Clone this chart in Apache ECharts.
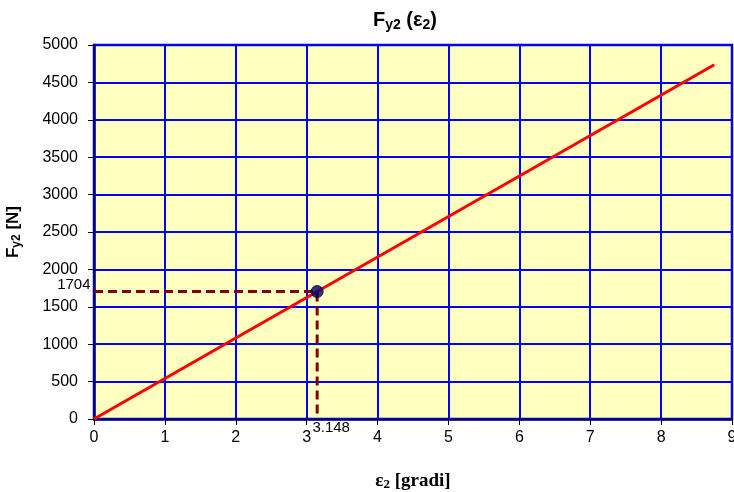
<!DOCTYPE html>
<html>
<head>
<meta charset="utf-8">
<script src="https://cdn.jsdelivr.net/npm/echarts@6/dist/echarts.min.js"></script>
<style>
  html, body { margin: 0; padding: 0; background: #ffffff; }
  #chart { width: 734px; height: 492px; }
</style>
</head>
<body>
<div id="chart"></div>
<script>
// Force Fy2 as a function of angle ε2 (degrees)
const lineX = [0, 8.75];
const lineY = [0, 4736];

// Highlighted operating point
const pointX = 3.148;
const pointY = 1704;

const xTicks = [0, 1, 2, 3, 4, 5, 6, 7, 8, 9];
const yTicks = [0, 500, 1000, 1500, 2000, 2500, 3000, 3500, 4000, 4500, 5000];

const font = '"Liberation Sans", Arial, sans-serif';
const serif = '"Liberation Serif", "Times New Roman", serif';

const valueLabel = {
  color: '#000000', fontFamily: font, fontSize: 15, opacity: 1,
  textBorderWidth: 0
};

const chart = echarts.init(document.getElementById('chart'));
chart.setOption({
  backgroundColor: '#ffffff',
  animation: false,
  title: {
    text: '{b|F}{s|y2}{b| (}{g|ε}{s|2}{b|)}',
    left: 368,
    top: 4,
    textStyle: {
      rich: {
        b: { fontFamily: font, fontWeight: 'bold', fontSize: 20, color: '#000' },
        g: { fontFamily: font, fontWeight: 'bold', fontSize: 20, color: '#000' },
        s: { fontFamily: font, fontWeight: 'bold', fontSize: 14, color: '#000', padding: [9, 0, 0, 0] }
      }
    }
  },
  grid: {
    left: 94, right: 2, top: 45, bottom: 73,
    outerBoundsMode: 'none',
    containLabel: false,
    show: true,
    backgroundColor: '#ffffc0',
    borderColor: '#0000a0',
    borderWidth: 2.5
  },
  xAxis: {
    type: 'value',
    min: xTicks[0], max: xTicks[xTicks.length - 1], interval: 1,
    name: '{g|ε}{s|2}{b| [gradi]}',
    nameLocation: 'middle',
    nameGap: 52,
    nameTextStyle: {
      rich: {
        g: { fontFamily: serif, fontWeight: 'bold', fontSize: 19, color: '#000' },
        s: { fontFamily: serif, fontWeight: 'bold', fontSize: 13, color: '#000', padding: [7, 0, 0, 0] },
        b: { fontFamily: serif, fontWeight: 'bold', fontSize: 19, color: '#000' }
      }
    },
    axisLine: { show: true, onZero: false, lineStyle: { color: '#000080', width: 2.5 } },
    axisTick: { show: true, inside: false, length: 6, lineStyle: { color: '#000', width: 1 } },
    axisLabel: { color: '#000', fontFamily: font, fontSize: 16, margin: 11, formatter: v => String(v) },
    splitLine: { show: true, lineStyle: { color: '#0000ff', width: 2 } }
  },
  yAxis: {
    type: 'value',
    min: yTicks[0], max: yTicks[yTicks.length - 1], interval: 500,
    name: '{b|F}{s|y2}{b| [N]}',
    nameLocation: 'middle',
    nameGap: 71,
    nameRotate: 90,
    nameTextStyle: {
      rich: {
        b: { fontFamily: font, fontWeight: 'bold', fontSize: 17, color: '#000' },
        s: { fontFamily: font, fontWeight: 'bold', fontSize: 12, color: '#000', padding: [8, 0, 0, 0] }
      }
    },
    axisLine: { show: true, onZero: false, lineStyle: { color: '#000080', width: 2.5 } },
    axisTick: { show: true, inside: false, length: 6, lineStyle: { color: '#000', width: 1 } },
    axisLabel: { color: '#000', fontFamily: font, fontSize: 16, margin: 16, formatter: v => String(v) },
    splitLine: { show: true, lineStyle: { color: '#0000ff', width: 2 } }
  },
  series: [
    {
      type: 'line',
      data: lineX.map((x, i) => [x, lineY[i]]),
      symbol: 'none',
      lineStyle: { color: '#ff0000', width: 3 },
      z: 3
    },
    {
      type: 'line',
      data: [[0, pointY], [pointX, pointY], [pointX, 0]],
      symbol: 'none',
      lineStyle: { color: '#800000', width: 3, type: [9, 5] },
      z: 2
    },
    {
      type: 'scatter',
      data: [[0, pointY]],
      symbolSize: 1,
      itemStyle: { color: 'rgba(0,0,0,0)' },
      label: Object.assign({
        show: true, position: 'left', offset: [2, -7],
        formatter: String(pointY)
      }, valueLabel),
      z: 5
    },
    {
      type: 'scatter',
      data: [[pointX, 0]],
      symbolSize: 1,
      itemStyle: { color: 'rgba(0,0,0,0)' },
      label: Object.assign({
        show: true, position: 'bottom', offset: [14, -4],
        formatter: String(pointX)
      }, valueLabel),
      z: 5
    },
    {
      type: 'scatter',
      data: [[pointX, pointY]],
      symbol: 'circle',
      symbolSize: 12,
      itemStyle: { color: '#000070', borderColor: '#000030', borderWidth: 1 },
      z: 6
    }
  ]
});
</script>
</body>
</html>
